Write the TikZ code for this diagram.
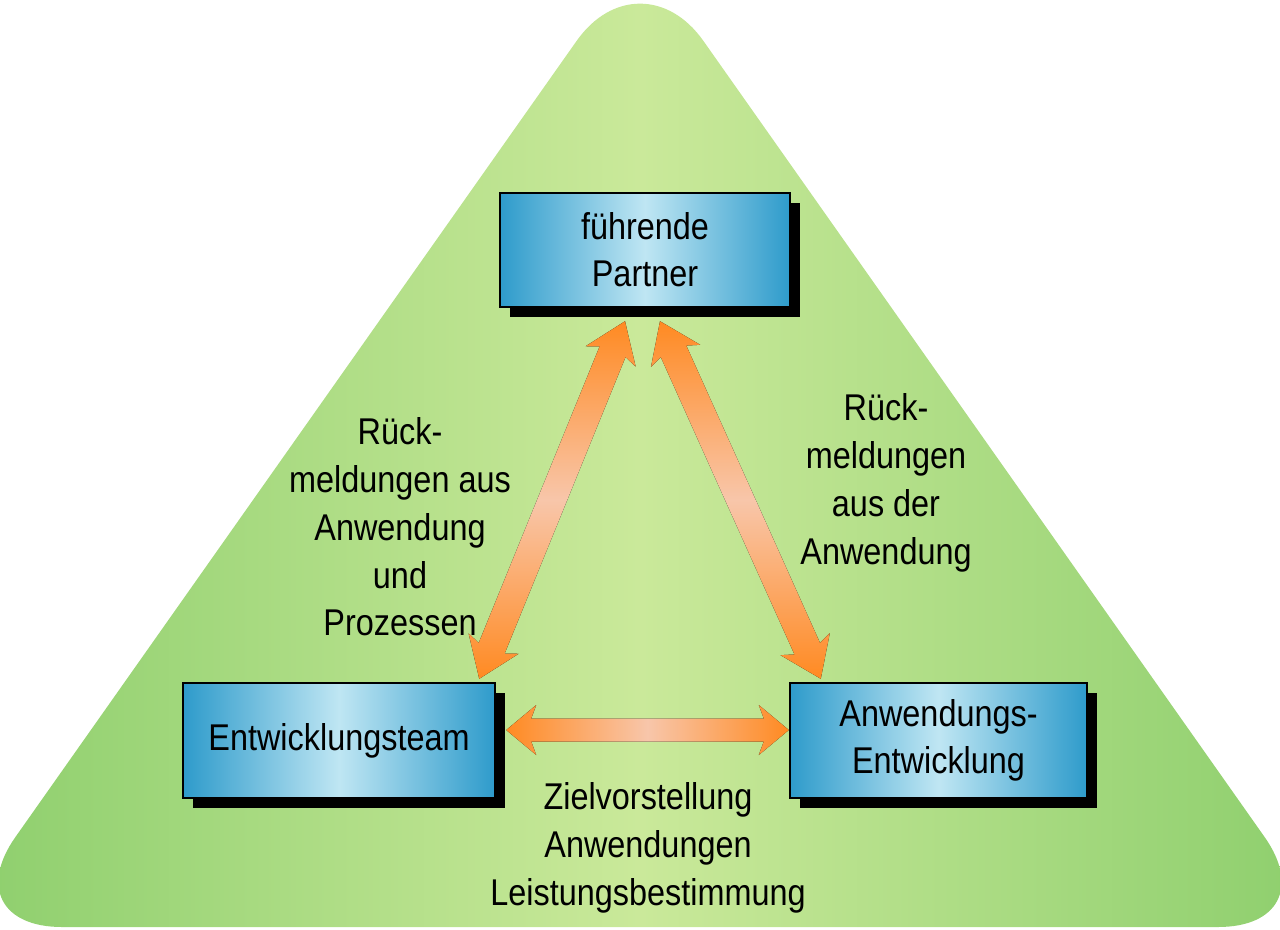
\documentclass[tikz,border=0pt]{standalone}
\usepackage{fontspec}
\setmainfont{Liberation Sans}[FakeStretch=0.87]
\usetikzlibrary{calc, shadows}
\definecolor{trigreen}{HTML}{8CCE6C}
\definecolor{trilight}{HTML}{CAE99A}
\definecolor{boxblue}{HTML}{2E9BCB}
\definecolor{boxlight}{HTML}{BFE6F3}
\definecolor{arrorange}{HTML}{FF8A22}
\definecolor{arrpeach}{HTML}{F8C6AA}

% double headed block arrow: [style]{from}{to}{half shaft}{half head}{head length}
\newcommand{\dblarrow}[6][]{%
  \fill[#1] (#2)
    -- ($(#2)!#6!(#3)!#5!90:(#3)$)
    -- ($(#2)!#6-0.05cm!(#3)!#4!90:(#3)$)
    -- ($(#3)!#6-0.05cm!(#2)!#4!-90:(#2)$)
    -- ($(#3)!#6!(#2)!#5!-90:(#2)$)
    -- (#3)
    -- ($(#3)!#6!(#2)!#5!90:(#2)$)
    -- ($(#3)!#6-0.05cm!(#2)!#4!90:(#2)$)
    -- ($(#2)!#6-0.05cm!(#3)!#4!-90:(#3)$)
    -- ($(#2)!#6!(#3)!#5!-90:(#3)$)
    -- cycle;}

\tikzset{
  box/.style={draw=black, line width=0.7pt, left color=boxblue, right color=boxblue, middle color=boxlight,
    drop shadow={shadow xshift=0.1cm, shadow yshift=-0.1cm, fill=black, opacity=1},
    align=center, inner sep=0pt, font=\fontsize{10.6}{13.4}\selectfont},
  lbl/.style={align=center, font=\fontsize{10.6}{13.6}\selectfont},
  varrow/.style={top color=arrorange, bottom color=arrorange, middle color=arrpeach},
  harrow/.style={left color=arrorange, right color=arrorange, middle color=arrpeach},
}

\begin{document}
\begin{tikzpicture}
    \useasboundingbox (0,0) rectangle (12.8,9.29);
    \shade[left color=trigreen, right color=trigreen, middle color=trilight, rounded corners=1.1cm]
        (-0.48,0.02) -- (6.40,9.78) -- (13.28,0.02) -- cycle;

    \node[box, minimum width=2.90cm, minimum height=1.14cm] (partner) at (6.45,6.79) {führende\\Partner};
    \node[box, minimum width=3.12cm, minimum height=1.15cm] (team) at (3.39,1.885) {Entwicklungsteam};
    \node[box, minimum width=2.97cm, minimum height=1.15cm] (anw) at (9.385,1.885) {Anwendungs-\\Entwicklung};

    \coordinate (pl) at ($(partner.south)+(-0.20,-0.13)$);
    \coordinate (pr) at ($(partner.south)+(0.15,-0.13)$);
    \coordinate (tn) at ($(team.north east)+(-0.17,0.03)$);
    \coordinate (te) at ($(team.east)+(0.10,0.105)$);
    \coordinate (an) at ($(anw.north west)+(0.32,0.03)$);
    \coordinate (aw) at ($(anw.west)+(0,0.105)$);

    \dblarrow[varrow]{tn}{pl}{0.14cm}{0.27cm}{0.38cm}
    \dblarrow[varrow]{pr}{an}{0.14cm}{0.27cm}{0.38cm}
    \dblarrow[harrow]{te}{aw}{0.115cm}{0.25cm}{0.30cm}

    \node[lbl] (fbteam) at (4.00,4.02) {Rück-\\meldungen aus\\Anwendung\\und\\Prozessen};
    \node[lbl] (fbanw) at (8.86,4.46) {Rück-\\meldungen\\aus der\\Anwendung};
    \node[lbl] (goals) at (6.48,0.81) {Zielvorstellung\\Anwendungen\\Leistungsbestimmung};
\end{tikzpicture}
\end{document}
